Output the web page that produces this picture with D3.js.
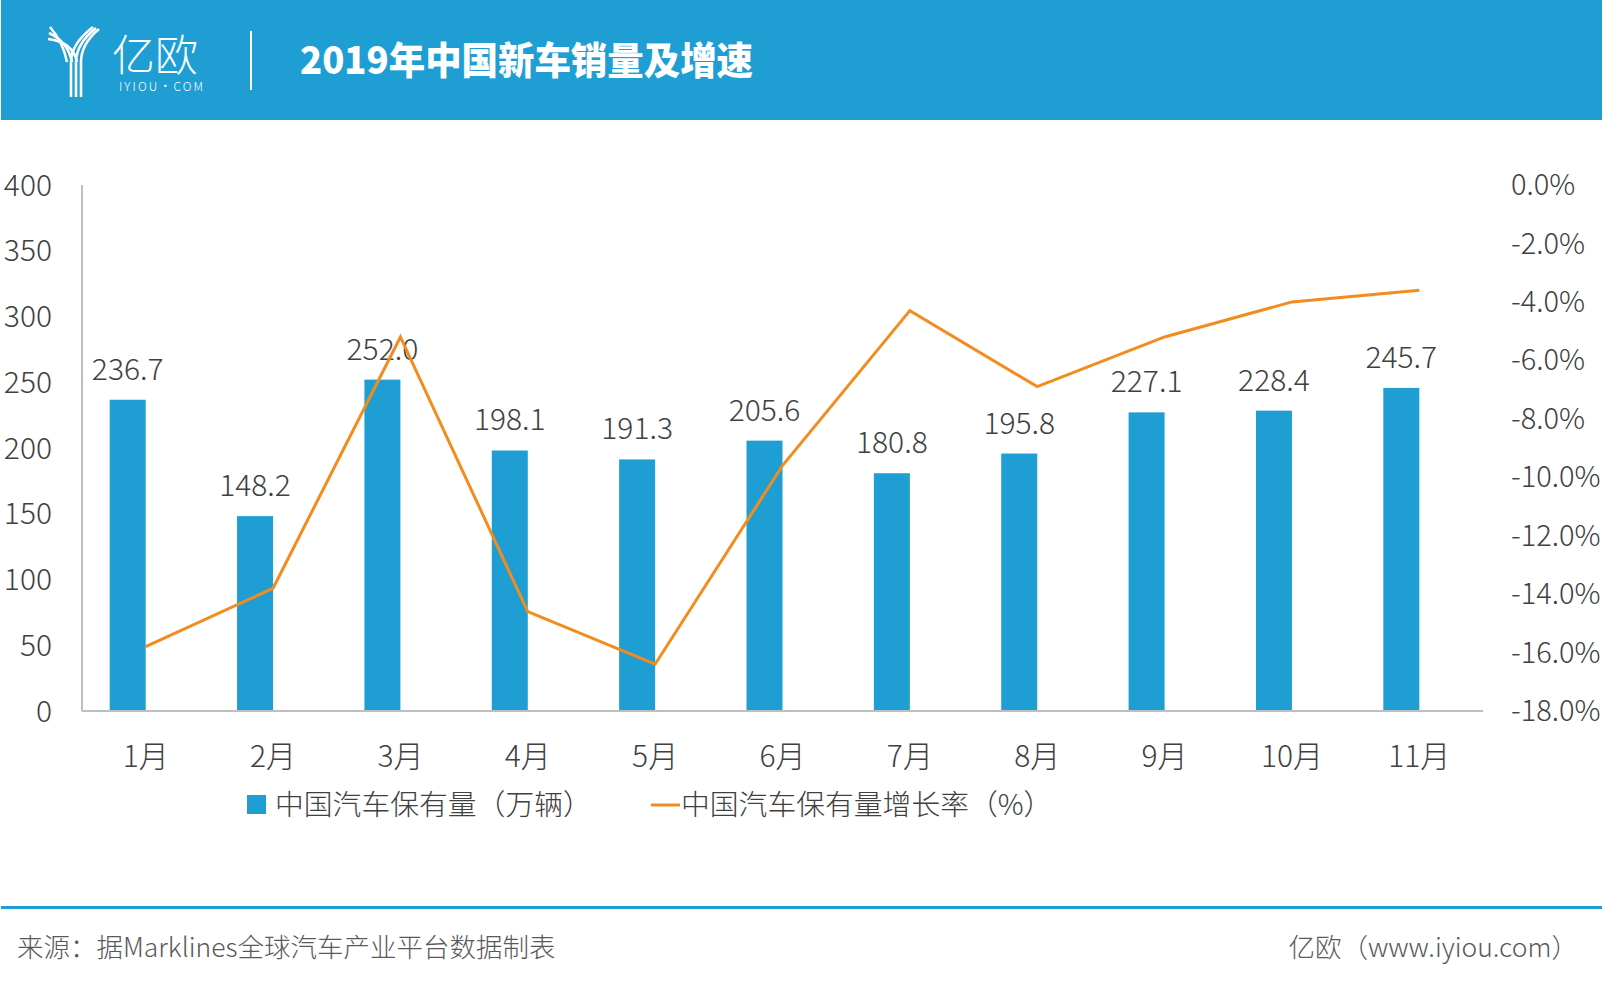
<!DOCTYPE html>
<html>
<head>
<meta charset="utf-8">
<script src="https://cdn.jsdelivr.net/npm/d3@7"></script>
<style>
  body { margin: 0; background: #fff; }
  svg { display: block; }
  text { font-family: "Noto Sans CJK SC", "Noto Sans", sans-serif; }
</style>
</head>
<body>
<script>
// chart data
const months = ['1月', '2月', '3月', '4月', '5月', '6月', '7月', '8月', '9月', '10月', '11月'];
const sales = [236.7, 148.2, 252.0, 198.1, 191.3, 205.6, 180.8, 195.8, 227.1, 228.4, 245.7];
const growth = [-15.8, -13.8, -5.2, -14.6, -16.4, -9.6, -4.3, -6.9, -5.2, -4.0, -3.6];
const leftTicks = [0, 50, 100, 150, 200, 250, 300, 350, 400];
const rightTicks = [0, -2, -4, -6, -8, -10, -12, -14, -16, -18];

const title = '2019年中国新车销量及增速';
const barName = '中国汽车保有量（万辆）';
const lineName = '中国汽车保有量增长率（%）';
const source = '来源：据Marklines全球汽车产业平台数据制表';
const credit = '亿欧（www.iyiou.com）';

const W = 1603, H = 986;
const blue = '#1e9ed3', orange = '#f28c1f', txt = '#404040', axisCol = '#bfbfbf';

const svg = d3.select('body').append('svg')
  .attr('width', W)
  .attr('height', H);

// header band
svg.append('rect').attr('x', 1).attr('y', 0).attr('width', W - 2).attr('height', 120).attr('fill', blue);

// logo (rough)
const logo = svg.append('g').attr('fill', 'none').attr('stroke', '#fff').attr('stroke-width', 2.6);
[0, 1, 2].forEach(i => {
  const sx = 71 + i * 5;
  logo.append('path').attr('d', `M${sx},97 L${sx},62 Q${sx},44 ${sx + 22 - i * 2},${27 + i}`);
});
[0, 1, 2].forEach(i => {
  const sx = 71 + i * 5;
  logo.append('path').attr('d', `M${sx - 4},62 Q${sx - 8},42 ${50 - i},${27 + i * 6}`);
});
svg.append('text').attr('x', 112).attr('y', 71).attr('fill', '#fff')
  .attr('font-size', 43).attr('font-weight', 300).text('亿欧');
svg.append('text').attr('x', 119).attr('y', 91).attr('fill', '#fff')
  .attr('font-size', 12).attr('font-weight', 300)
  .attr('textLength', 84).attr('lengthAdjust', 'spacing')
  .text('IYIOU·COM');
svg.append('line').attr('x1', 251).attr('x2', 251).attr('y1', 31).attr('y2', 90)
  .attr('stroke', '#fff').attr('stroke-width', 2);

svg.append('text').attr('x', 300).attr('y', 74).attr('fill', '#fff')
  .attr('font-size', 38).attr('font-weight', 900)
  .attr('textLength', 453).attr('lengthAdjust', 'spacingAndGlyphs')
  .text(title);

// scales
const plotL = 82, plotR = 1483, plotT = 185, plotB = 711;
const x = d3.scaleBand().domain(months).range([plotL, plotR]).padding(0);
const y = d3.scaleLinear().domain([0, 400]).range([plotB, plotT]);
const y2 = d3.scaleLinear().domain([-18, 0]).range([plotB, plotT]);
const barW = 36;
const cx = m => x(m) + x.bandwidth() / 2;

// left labels
svg.append('g').selectAll('text').data(leftTicks).join('text')
  .attr('x', 52).attr('y', d => y(d)).attr('dy', '0.35em')
  .attr('text-anchor', 'end').attr('font-size', 30).attr('font-weight', 300)
  .attr('fill', txt).text(d => d);

// right labels (plain hyphen like the original)
svg.append('g').selectAll('text').data(rightTicks).join('text')
  .attr('x', 1511).attr('y', d => y2(d)).attr('dy', '0.35em')
  .attr('text-anchor', 'start').attr('font-size', 29).attr('font-weight', 300)
  .attr('fill', txt).text(d => d.toFixed(1) + '%');

// axes
svg.append('line').attr('x1', plotL).attr('x2', plotL).attr('y1', plotT).attr('y2', plotB)
  .attr('stroke', axisCol).attr('stroke-width', 2);
svg.append('line').attr('x1', plotL).attr('x2', plotR).attr('y1', plotB).attr('y2', plotB)
  .attr('stroke', axisCol).attr('stroke-width', 2);

// bars
svg.append('g').selectAll('rect').data(sales).join('rect')
  .attr('x', (d, i) => cx(months[i]) - barW)
  .attr('width', barW)
  .attr('y', d => y(d))
  .attr('height', d => plotB - 1 - y(d))
  .attr('fill', blue);

// bar value labels
svg.append('g').selectAll('text').data(sales).join('text')
  .attr('x', (d, i) => cx(months[i]) - barW / 2)
  .attr('y', d => y(d) - 20)
  .attr('text-anchor', 'middle').attr('font-size', 30).attr('font-weight', 300)
  .attr('fill', txt).text(d => d.toFixed(1));

// growth line
const line = d3.line().x((d, i) => cx(months[i])).y(d => y2(d));
svg.append('path').datum(growth)
  .attr('fill', 'none').attr('stroke', orange).attr('stroke-width', 3)
  .attr('stroke-linejoin', 'miter').attr('d', line);

// x labels
svg.append('g').selectAll('text').data(months).join('text')
  .attr('x', d => cx(d)).attr('y', 756).attr('dy', '0.35em')
  .attr('text-anchor', 'middle').attr('font-size', 30).attr('font-weight', 300)
  .attr('fill', txt).text(d => d);

// legend
svg.append('rect').attr('x', 247).attr('y', 795).attr('width', 19).attr('height', 19).attr('fill', blue);
svg.append('text').attr('x', 275).attr('y', 805).attr('dy', '0.35em')
  .attr('font-size', 28.8).attr('font-weight', 300).attr('fill', txt).text(barName);
svg.append('line').attr('x1', 651).attr('x2', 680).attr('y1', 805).attr('y2', 805)
  .attr('stroke', orange).attr('stroke-width', 3);
svg.append('text').attr('x', 681).attr('y', 805).attr('dy', '0.35em')
  .attr('font-size', 28.8).attr('font-weight', 300).attr('fill', txt).text(lineName);

// footer
svg.append('rect').attr('x', 1).attr('y', 906).attr('width', W - 2).attr('height', 3).attr('fill', blue);
svg.append('text').attr('x', 17).attr('y', 948).attr('dy', '0.35em')
  .attr('font-size', 26.5).attr('font-weight', 300).attr('fill', '#595959').text(source);
svg.append('text').attr('x', 1578).attr('y', 948).attr('dy', '0.35em').attr('text-anchor', 'end')
  .attr('font-size', 26.5).attr('font-weight', 300).attr('fill', '#595959').text(credit);
</script>
</body>
</html>
